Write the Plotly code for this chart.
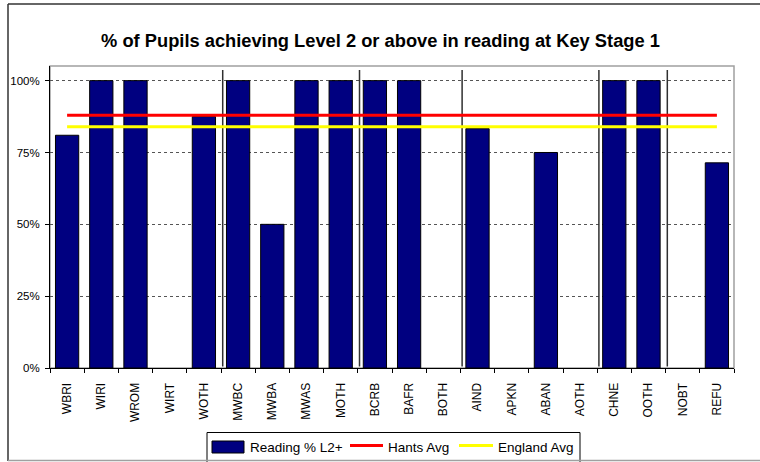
import plotly.graph_objects as go

categories = ["WBRI", "WIRI", "WROM", "WIRT", "WOTH",
              "MWBC", "MWBA", "MWAS", "MOTH",
              "BCRB", "BAFR", "BOTH",
              "AIND", "APKN", "ABAN", "AOTH",
              "CHNE", "OOTH",
              "NOBT", "REFU"]
reading = [0.81, 1.0, 1.0, None, 0.875,
           1.0, 0.5, 1.0, 1.0,
           1.0, 1.0, None,
           0.833, None, 0.75, None,
           1.0, 1.0,
           None, 0.714]
hants_avg = 0.88
england_avg = 0.84
group_sizes = [5, 4, 3, 4, 2, 2]
ytick_vals = [0, 0.25, 0.5, 0.75, 1.0]
ytick_text = ["0%", "25%", "50%", "75%", "100%"]
series_names = ["Reading % L2+", "Hants Avg", "England Avg"]

BAR_COLOR = "#000080"
HANTS_COLOR = "#ff0000"
ENG_COLOR = "#ffff00"

W, H = 760, 462
L, R, T, B = 50, 734, 66, 368
FONT = "Liberation Sans, Arial, sans-serif"

fig = go.Figure()
fig.add_trace(go.Bar(
    x=categories, y=reading, name=series_names[0],
    marker=dict(color=BAR_COLOR, line=dict(color="#000000", width=1)),
))
fig.add_trace(go.Scatter(
    x=categories, y=[hants_avg] * len(categories), name=series_names[1],
    mode="lines", line=dict(color=HANTS_COLOR, width=3),
))
fig.add_trace(go.Scatter(
    x=categories, y=[england_avg] * len(categories), name=series_names[2],
    mode="lines", line=dict(color=ENG_COLOR, width=3),
))

def px_x(p):
    return (p - L) / (R - L)

def px_y(p):
    return (B - p) / (B - T)

shapes = []
annotations = []
# plot area border (gray)
shapes.append(dict(type="rect", xref="paper", yref="paper", x0=0, x1=1, y0=0, y1=1,
                   line=dict(color="#a0a0a0", width=1.5), layer="below"))
# group separators
pos = -0.5
for g in group_sizes[:-1]:
    pos += g
    shapes.append(dict(type="line", xref="x", yref="y", x0=pos + 0.05, x1=pos + 0.05,
                       y0=0.005, y1=1.037, line=dict(color="#303030", width=1.5),
                       layer="between"))
# outer chart border: top & left dark, bottom gray
shapes.append(dict(type="line", xref="paper", yref="paper",
                   x0=px_x(8), x1=px_x(765), y0=px_y(4), y1=px_y(4),
                   line=dict(color="#333333", width=1.5)))
shapes.append(dict(type="line", xref="paper", yref="paper",
                   x0=px_x(8), x1=px_x(8), y0=px_y(4), y1=px_y(461),
                   line=dict(color="#333333", width=1.5)))
shapes.append(dict(type="line", xref="paper", yref="paper",
                   x0=px_x(8), x1=px_x(765), y0=px_y(460.5), y1=px_y(460.5),
                   line=dict(color="#a0a0a0", width=1.5)))

# custom legend
shapes.append(dict(type="rect", xref="paper", yref="paper",
                   x0=px_x(207), x1=px_x(580), y0=px_y(475), y1=px_y(432.5),
                   line=dict(color="#000000", width=1), fillcolor="white", layer="below"))
shapes.append(dict(type="rect", xref="paper", yref="paper",
                   x0=px_x(212), x1=px_x(244), y0=px_y(453), y1=px_y(441),
                   line=dict(color="#000000", width=1), fillcolor=BAR_COLOR))
shapes.append(dict(type="line", xref="paper", yref="paper",
                   x0=px_x(350), x1=px_x(383), y0=px_y(445.5), y1=px_y(445.5),
                   line=dict(color=HANTS_COLOR, width=3)))
shapes.append(dict(type="line", xref="paper", yref="paper",
                   x0=px_x(459), x1=px_x(493), y0=px_y(445.5), y1=px_y(445.5),
                   line=dict(color=ENG_COLOR, width=3)))
for name, xpx in zip(series_names, [248, 386, 496]):
    annotations.append(dict(text=name, xref="paper", yref="paper",
                            x=px_x(xpx), y=px_y(447), xanchor="left", yanchor="middle",
                            showarrow=False, font=dict(size=13.5, family=FONT, color="#000000")))

fig.update_layout(
    width=W, height=H,
    margin=dict(l=L, r=W - R, t=T, b=H - B, pad=0, autoexpand=False),
    paper_bgcolor="white", plot_bgcolor="white",
    font=dict(family=FONT, color="#000000", size=11),
    title=dict(text="<b>% of Pupils achieving Level 2 or above in reading at Key Stage 1</b>",
               x=px_x(380.5), xref="paper", xanchor="center",
               y=1 - 41 / H, yanchor="middle", yref="container",
               font=dict(size=18.3, family=FONT)),
    bargap=0.32,
    showlegend=False,
    shapes=shapes,
    annotations=annotations,
)
fig.update_xaxes(
    type="category", showgrid=False, tickangle=-90,
    ticks="outside", tickson="boundaries", ticklen=4, tickcolor="#000000",
    showline=True, linecolor="#000000", linewidth=1,
    tickfont=dict(size=12), zeroline=False, fixedrange=True,
    ticklabelstandoff=9,
)
fig.update_yaxes(
    range=[0, 1.051], tickvals=ytick_vals, ticktext=ytick_text,
    showgrid=True, gridcolor="#555555", griddash="dot", gridwidth=1,
    ticks="outside", ticklen=4, tickcolor="#000000",
    showline=True, linecolor="#000000", linewidth=1,
    zeroline=False, tickfont=dict(size=11.5), fixedrange=True,
    ticklabelstandoff=3,
)

fig.write_html(
    "out.html",
    config={"displayModeBar": False},
    post_script="document.body.style.margin='0';document.body.style.overflow='hidden';",
)
